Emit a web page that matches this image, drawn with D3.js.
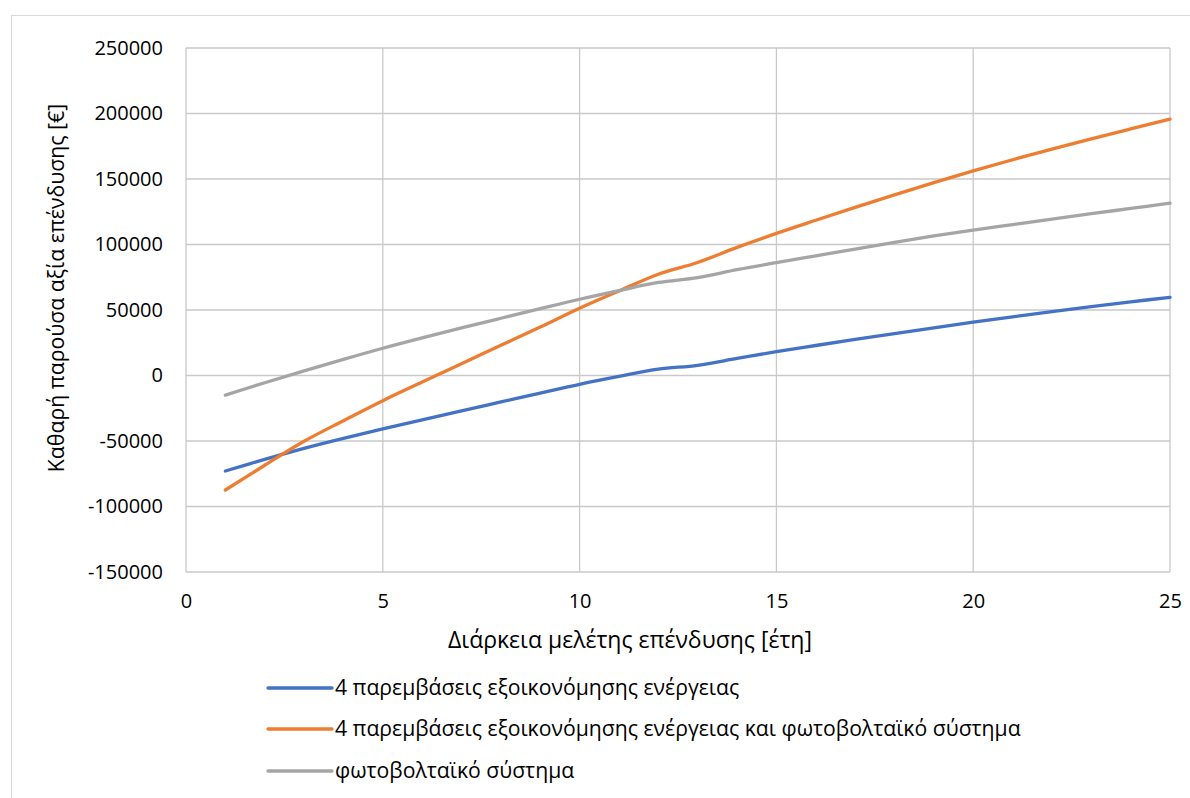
<!DOCTYPE html>
<html>
<head>
<meta charset="utf-8">
<script src="https://cdn.jsdelivr.net/npm/d3@7"></script>
<style>
  html, body { margin: 0; padding: 0; background: #fff; }
  svg { display: block; font-family: "Open Sans", "Noto Sans", sans-serif; }
</style>
</head>
<body>
<svg id="chart" width="1190" height="798"></svg>
<script>
// Investment study horizon (years)
const years = d3.range(1, 26);

// Net present value per year, in euros
const npvSavings = [
  -72900, -64000, -55600, -48000, -40800, -33900, -27000, -20200, -13400, -6700,
  -700, 4800, 7800, 13000, 18200, 22900, 27500, 32000, 36400, 40700,
  44800, 48800, 52600, 56200, 59700
];
const npvSavingsPv = [
  -87400, -68500, -50200, -34500, -19200, -5000, 9000, 23000, 37000, 51300,
  64500, 77300, 86300, 97800, 108500, 118500, 128300, 137900, 147200, 156200,
  164700, 172800, 180600, 188200, 195700
];
const npvPv = [
  -15000, -5500, 3500, 12300, 20800, 28700, 36300, 43700, 51000, 58200,
  64800, 71000, 74700, 80800, 86100, 91300, 96500, 101600, 106500, 111000,
  115200, 119400, 123500, 127500, 131500
];

const seriesNames = [
  "4 παρεμβάσεις εξοικονόμησης ενέργειας",
  "4 παρεμβάσεις εξοικονόμησης ενέργειας και φωτοβολταϊκό σύστημα",
  "φωτοβολταϊκό σύστημα"
];
const seriesColors = ["#4472C4", "#ED7D31", "#A5A5A5"];

const xTicks = [0, 5, 10, 15, 20, 25];
const yTicks = [-150000, -100000, -50000, 0, 50000, 100000, 150000, 200000, 250000];

const xTitle = "Διάρκεια μελέτης επένδυσης [έτη]";
const yTitle = "Καθαρή παρούσα αξία επένδυσης [€]";

const series = [npvSavings, npvSavingsPv, npvPv].map((vals, i) => ({
  name: seriesNames[i],
  color: seriesColors[i],
  points: years.map((yr, j) => ({ x: yr, y: vals[j] }))
}));

const svg = d3.select("#chart");
const plot = { left: 186, right: 1170, top: 48, bottom: 572 };

// Outer chart frame
svg.append("rect")
  .attr("x", 11.5).attr("y", 15.5)
  .attr("width", 1200).attr("height", 800)
  .attr("fill", "#fff").attr("stroke", "#d9d9d9").attr("stroke-width", 1);

const x = d3.scaleLinear().domain([0, 25]).range([plot.left, plot.right]);
const y = d3.scaleLinear().domain([-150000, 250000]).range([plot.bottom, plot.top]);

// Gridlines
const grid = svg.append("g").attr("stroke", "#c9c9c9").attr("stroke-width", 1.3);
grid.selectAll("line.h").data(yTicks).join("line")
  .attr("x1", plot.left).attr("x2", plot.right)
  .attr("y1", d => y(d)).attr("y2", d => y(d));
grid.selectAll("line.v").data(xTicks).join("line")
  .attr("y1", plot.top).attr("y2", plot.bottom)
  .attr("x1", d => x(d)).attr("x2", d => x(d));

// Plain integer labels with an ASCII hyphen for negatives
const plain = d => String(d);

// Axes (labels only; the grid provides the lines)
const yAxis = svg.append("g")
  .attr("transform", `translate(${plot.left},0)`)
  .call(d3.axisLeft(y).tickValues(yTicks).tickFormat(plain).tickSize(0).tickPadding(23));
const xAxis = svg.append("g")
  .attr("transform", `translate(0,${plot.bottom})`)
  .call(d3.axisBottom(x).tickValues(xTicks).tickFormat(plain).tickSize(0).tickPadding(22));
[yAxis, xAxis].forEach(a => {
  a.select(".domain").remove();
  a.selectAll("text").attr("font-size", 20).attr("fill", "#000")
    .attr("font-family", "'Open Sans', sans-serif");
});

// Series lines
const line = d3.line()
  .x(d => x(d.x)).y(d => y(d.y))
  .curve(d3.curveCatmullRom.alpha(0.5));
svg.append("g").selectAll("path").data(series).join("path")
  .attr("d", d => line(d.points))
  .attr("fill", "none")
  .attr("stroke", d => d.color)
  .attr("stroke-width", 3.3)
  .attr("stroke-linecap", "round")
  .attr("stroke-linejoin", "round");

// Axis titles
svg.append("text")
  .attr("x", 630).attr("y", 648)
  .attr("text-anchor", "middle")
  .attr("font-size", 23).attr("fill", "#000")
  .text(xTitle);
svg.append("text")
  .attr("transform", "translate(64,288) rotate(-90)")
  .attr("text-anchor", "middle")
  .attr("font-size", 21.3).attr("fill", "#000")
  .text(yTitle);

// Legend
const legend = svg.append("g");
const rowY = [688, 729, 771];
series.forEach((s, i) => {
  const g = legend.append("g").attr("transform", `translate(268,${rowY[i]})`);
  g.append("line").attr("x1", 0).attr("x2", 64).attr("y1", 0).attr("y2", 0)
    .attr("stroke", s.color).attr("stroke-width", 3.3).attr("stroke-linecap", "round");
  g.append("text").attr("x", 67).attr("y", 0).attr("dy", "0.35em")
    .attr("font-size", 21.2).attr("fill", "#000")
    .text(s.name);
});
</script>
</body>
</html>
